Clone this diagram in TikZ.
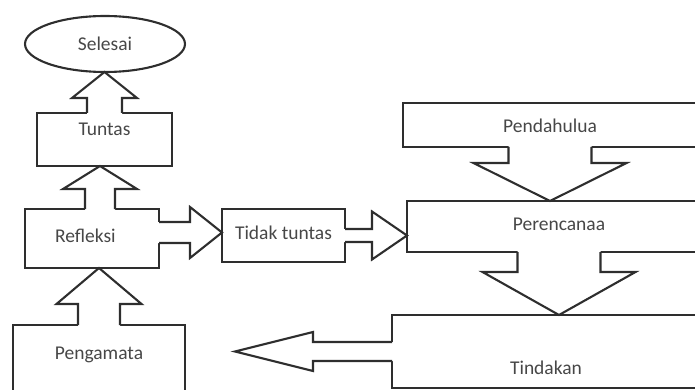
\documentclass[tikz,border=0pt]{standalone}
\usepackage{fontspec}
\setmainfont{Carlito}
\usetikzlibrary{shapes.geometric,calc}
\definecolor{ink}{HTML}{2e2e2e}
\definecolor{txt}{HTML}{474747}
\tikzset{
  kotak/.style={draw=ink,line width=2.1pt,fill=white,rectangle,inner sep=0pt,outer sep=0pt,anchor=north west,
    font=\fontsize{19.5}{22}\selectfont,text=txt,text height=13pt,text depth=0pt},
  elips/.style={kotak,ellipse,anchor=center},
  panah/.style={draw=ink,line width=2.1pt},
}
% block arrow: from, to (tip), head length, shaft half width, head half width
\newcommand{\blkarrow}[5]{%
  \coordinate (ba-a) at ($(#1)!-2pt!(#2)$);
  \coordinate (ba-b) at ($(#2)!#3!(#1)$);
  \fill[white] ($(ba-a)!#4!90:(#2)$) -- ($(ba-b)!#4!90:(#2)$) -- ($(ba-b)!#5!90:(#2)$) -- (#2)
    -- ($(ba-b)!#5!-90:(#2)$) -- ($(ba-b)!#4!-90:(#2)$) -- ($(ba-a)!#4!-90:(#2)$) -- cycle;
  \draw[panah] ($(#1)!#4!90:(#2)$) -- ($(ba-b)!#4!90:(#2)$) -- ($(ba-b)!#5!90:(#2)$) -- (#2)
    -- ($(ba-b)!#5!-90:(#2)$) -- ($(ba-b)!#4!-90:(#2)$) -- ($(#1)!#4!-90:(#2)$);
}

\begin{document}
\begin{tikzpicture}[x=1pt,y=-1pt]
\clip (0,0) rectangle (695,390);
% left column
\node[elips,minimum width=160pt,minimum height=56pt] (sel) at (105,44) {Selesai};
\node[kotak,minimum width=135pt,minimum height=53pt,text depth=20pt] (tun) at (37,113) {Tuntas};
\node[kotak,minimum width=134pt,minimum height=59pt,text depth=6pt,text width=74pt,align=left] (refl) at (25,209) {Refleksi};
\node[kotak,minimum width=172pt,minimum height=75pt,text depth=20pt] (peng) at (13,325) {Pengamata};
\node[kotak,minimum width=123pt,minimum height=53pt,text depth=6pt] (tid) at (222,209) {Tidak tuntas};
% right column
\node[kotak,minimum width=294pt,minimum height=44pt,text height=16pt] (pend) at (403,103) {Pendahulua};
\node[kotak,minimum width=304pt,minimum height=51pt,text depth=6pt] (pere) at (407,201) {Perencanaa};
\node[kotak,minimum width=308pt,minimum height=73pt,text height=45pt] (tind) at (392,315) {Tindakan};
% arrow ends
\coordinate (a1) at (tun.north |- sel.south);
\coordinate (r1) at ([xshift=8pt]refl.north);
\coordinate (a2) at (r1 |- tun.south);
\coordinate (a3) at (peng.north |- refl.south);
\coordinate (r2) at ([yshift=6pt]refl.east);
\coordinate (a4) at (r2 -| tid.west);
\coordinate (a5) at (tid.east -| pere.west);
\coordinate (a6) at (pend.south |- pere.north);
\coordinate (a7) at (pere.south |- tind.north);
\coordinate (balik) at ([xshift=-157pt]tind.west);
% block arrows
\blkarrow{tun.north}{a1}{26pt}{17.5pt}{32.5pt}
\blkarrow{r1}{a2}{23pt}{15pt}{37pt}
\blkarrow{peng.north}{a3}{36pt}{21pt}{42.5pt}
\blkarrow{r2}{a4}{32pt}{10.5pt}{25.5pt}
\blkarrow{tid.east}{a5}{35pt}{6.5pt}{24pt}
\blkarrow{pend.south}{a6}{38pt}{41.5pt}{76.5pt}
\blkarrow{pere.south}{a7}{43pt}{41.5pt}{76.5pt}
\blkarrow{tind.west}{balik}{78pt}{9.5pt}{19.5pt}
\end{tikzpicture}
\end{document}
